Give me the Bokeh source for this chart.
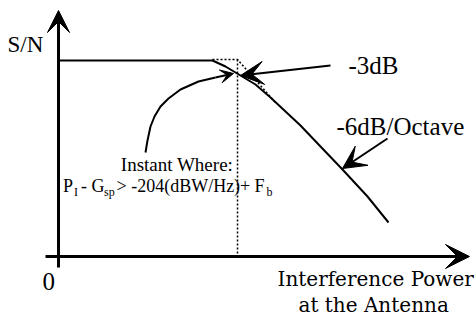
from bokeh.plotting import figure
from bokeh.models import Range1d, Arrow, VeeHead, ColumnDataSource
from bokeh.core.properties import value
from bokeh.embed import file_html
from bokeh.resources import INLINE

# S/N versus interference power (schematic units, origin at the axes corner)
resp_x = [0.0, 15.4, 16.7, 18.2, 19.7, 21.2, 24.2, 26.2, 28.4, 30.9, 33.0]
resp_y = [19.6, 19.6, 19.0, 18.1, 17.2, 15.9, 13.1, 11.0, 8.7, 6.0, 3.4]

# ideal asymptotes (flat, then -6 dB/octave) and the knee marker
asym_x = [15.4, 17.9, 21.7]
asym_y = [19.7, 19.7, 15.4]
knee_x = [17.9, 17.9]
knee_y = [19.7, 0.0]

# pointer from the "Instant Where" note to the knee
note_x = [8.7, 8.9, 9.2, 9.6, 10.2, 11.0, 12.2, 14.0, 15.7, 17.5]
note_y = [10.4, 11.6, 13.0, 14.0, 15.0, 15.8, 16.7, 17.5, 17.9, 18.3]

# straight callouts: -3dB and -6dB/Octave
call_x0 = [27.2, 32.9]
call_y0 = [19.1, 11.8]
call_x1 = [18.2, 28.4]
call_y1 = [18.1, 8.8]

# axes
yaxis_x = [0.0, 0.0]
yaxis_y = [-1.1, 24.6]
xaxis_x = [-1.3, 41.1]
xaxis_y = [0.0, 0.0]

# large labels (vertical position = middle of the text)
big_text = ["-3dB", "-6dB/Octave", "0"]
big_x = [29.0, 27.8, -1.6]
big_y = [19.15, 13.0, -2.45]

sn_text = ["S/N"]
sn_x = [-5.1]
sn_y = [21.2]

axis_text = ["Interference Power", "at the Antenna"]
axis_x = [21.9, 24.0]
axis_y = [-2.25, -4.85]

note_text = ["Instant Where:"]
note_tx = [11.85]
note_ty = [9.2]

# condition line: P_I - G_sp > -204(dBW/Hz)+ F_b
cond_text = ["P", "- G", "> -204(dBW/Hz)+", "F"]
cond_x = [0.45, 2.25, 5.8, 19.6]
cond_y = [7.1, 7.1, 7.1, 7.1]
sub_text = ["I", "sp", "b"]
sub_x = [1.55, 4.55, 20.8]
sub_y = [6.5, 6.5, 6.5]

SERIF = value("Liberation Serif")

p = figure(width=476, height=320,
           x_range=Range1d(-5.8, 41.8), y_range=Range1d(-6.4, 25.6),
           x_axis_location=None, y_axis_location=None,
           output_backend="svg", toolbar_location=None, min_border=0)
p.grid.visible = False
p.outline_line_color = None
p.background_fill_color = "white"
p.border_fill_color = "white"

# axes with arrowheads
p.add_layout(Arrow(x_start=yaxis_x[0], y_start=yaxis_y[0], x_end=yaxis_x[1], y_end=yaxis_y[1],
                   line_width=3, line_color="black",
                   end=VeeHead(size=22, fill_color="black", line_color="black", line_width=1)))
p.add_layout(Arrow(x_start=xaxis_x[0], y_start=xaxis_y[0], x_end=xaxis_x[1], y_end=xaxis_y[1],
                   line_width=3, line_color="black",
                   end=VeeHead(size=24, fill_color="black", line_color="black", line_width=1)))

# dotted asymptotes and knee line
p.line(asym_x, asym_y, line_color="black", line_width=1.5, line_dash="2 2")
p.line(knee_x, knee_y, line_color="black", line_width=1.5, line_dash="2 2")

# response curve
p.line(resp_x, resp_y, line_color="black", line_width=2)

# curved pointer with a small head on its last segment
p.line(note_x[:-1], note_y[:-1], line_color="black", line_width=2)
p.add_layout(Arrow(x_start=note_x[-2], y_start=note_y[-2], x_end=note_x[-1], y_end=note_y[-1],
                   line_width=2, line_color="black",
                   end=VeeHead(size=13, fill_color="black", line_color="black", line_width=1)))

# straight callout arrows
call_src = ColumnDataSource(dict(x0=call_x0, y0=call_y0, x1=call_x1, y1=call_y1))
p.add_layout(Arrow(source=call_src, x_start="x0", y_start="y0", x_end="x1", y_end="y1",
                   line_width=2, line_color="black",
                   end=VeeHead(size=23, fill_color="black", line_color="black", line_width=1)))

# labels
p.text(big_x, big_y, text=big_text, text_font=SERIF, text_font_size="25px",
       text_baseline="middle", text_align="left", text_color="black")
p.text(sn_x, sn_y, text=sn_text, text_font=SERIF, text_font_size="23px",
       text_baseline="middle", text_align="left", text_color="black")
p.text(axis_x, axis_y, text=axis_text, text_font=value("DejaVu Serif"), text_font_size="20px",
       text_baseline="middle", text_align="left", text_color="black")
p.text(note_tx, note_ty, text=note_text, text_font=SERIF, text_font_size="19px",
       text_baseline="middle", text_align="center", text_color="black")
p.text(cond_x, cond_y, text=cond_text, text_font=SERIF, text_font_size="18px",
       text_baseline="middle", text_align="left", text_color="black")
p.text(sub_x, sub_y, text=sub_text, text_font=SERIF, text_font_size="12px",
       text_baseline="middle", text_align="left", text_color="black")

open("out.html", "w").write(file_html(p, INLINE))
